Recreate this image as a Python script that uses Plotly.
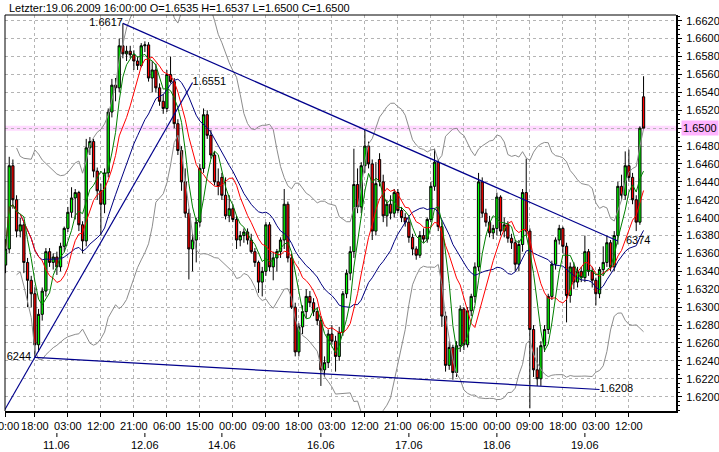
import plotly.graph_objects as go
import pandas as pd

FONT = "Liberation Sans, Arial, sans-serif"

# ---- hourly candles (bar index 0 = 10.06 10:00 ... 174 = 19.06 16:00) ----
open_ = [
    1.6347, 1.6365, 1.6458, 1.6420, 1.6385, 1.6392, 1.6350, 1.6330, 1.6315, 1.6258,
    1.6292, 1.6318, 1.6362, 1.6350, 1.6356, 1.6345, 1.6368, 1.6388, 1.6406, 1.6422,
    1.6428, 1.6392, 1.6374, 1.6478, 1.6485, 1.6452, 1.6430, 1.6415, 1.6450, 1.6518,
    1.6548, 1.6545, 1.6592, 1.6583, 1.6586, 1.6582, 1.6575, 1.6570, 1.6592, 1.6593,
    1.6556, 1.6565, 1.6545, 1.6530, 1.6522, 1.6560, 1.6552, 1.6505, 1.6475, 1.6440,
    1.6405, 1.6365, 1.6375, 1.6395, 1.6455, 1.6515, 1.6492, 1.6470, 1.6440, 1.6445,
    1.6425, 1.6402, 1.6410, 1.6398, 1.6375, 1.6380, 1.6384, 1.6375, 1.6362, 1.6350,
    1.6328, 1.6340, 1.6392, 1.6345, 1.6355, 1.6362, 1.6375, 1.6415, 1.6355, 1.6300,
    1.6250, 1.6278, 1.6295, 1.6312, 1.6305, 1.6295, 1.6285, 1.6230, 1.6238, 1.6270,
    1.6262, 1.6245, 1.6272, 1.6315, 1.6338, 1.6362, 1.6437, 1.6412, 1.6458, 1.6480,
    1.6460, 1.6385, 1.6465, 1.6440, 1.6402, 1.6415, 1.6405, 1.6428, 1.6408, 1.6400,
    1.6395, 1.6378, 1.6365, 1.6358, 1.6380, 1.6376, 1.6398, 1.6435, 1.6462, 1.6390,
    1.6290, 1.6235, 1.6255, 1.6227, 1.6257, 1.6298, 1.6258, 1.6296, 1.6312, 1.6345,
    1.6440, 1.6405, 1.6395, 1.6383, 1.6388, 1.6423, 1.6385, 1.6392, 1.6377, 1.6372,
    1.6348, 1.6370, 1.6428, 1.6385, 1.6275, 1.6230, 1.6220, 1.6257, 1.6275, 1.6312,
    1.6348, 1.6375, 1.6388, 1.6368, 1.6313, 1.6345, 1.6328, 1.6340, 1.6333, 1.6362,
    1.6340, 1.6330, 1.6315, 1.6342, 1.6350, 1.6372, 1.6345, 1.6380, 1.6435, 1.6425,
    1.6458, 1.6445, 1.6420, 1.6395, 1.6535,
]
high_ = [
    1.6376, 1.6468, 1.6465, 1.6425, 1.6400, 1.6395, 1.6355, 1.6335, 1.6322, 1.6298,
    1.6322, 1.6366, 1.6366, 1.6360, 1.6362, 1.6372, 1.6390, 1.6412, 1.6434, 1.6432,
    1.6430, 1.6396, 1.6488, 1.6490, 1.6488, 1.6456, 1.6438, 1.6455, 1.6522, 1.6555,
    1.6556, 1.6600, 1.6617, 1.6592, 1.6592, 1.6587, 1.6580, 1.6595, 1.6597, 1.6596,
    1.6575, 1.6572, 1.6550, 1.6538, 1.6565, 1.6580, 1.6556, 1.6510, 1.6480, 1.6455,
    1.6410, 1.6382, 1.6400, 1.6460, 1.6522, 1.6520, 1.6498, 1.6474, 1.6455, 1.6450,
    1.6445, 1.6425, 1.6415, 1.6402, 1.6385, 1.6388, 1.6388, 1.6382, 1.6366, 1.6352,
    1.6345, 1.6395, 1.6395, 1.6362, 1.6365, 1.6378, 1.6432, 1.6418, 1.6360, 1.6305,
    1.6282, 1.6302, 1.6320, 1.6318, 1.6310, 1.6300, 1.6290, 1.6245, 1.6275, 1.6280,
    1.6268, 1.6278, 1.6318, 1.6342, 1.6368, 1.6477, 1.6455, 1.6462, 1.6498, 1.6485,
    1.6465, 1.6462, 1.6472, 1.6448, 1.6420, 1.6425, 1.6432, 1.6432, 1.6412, 1.6405,
    1.6400, 1.6382, 1.6368, 1.6385, 1.6388, 1.6400, 1.6440, 1.6477, 1.6465, 1.6395,
    1.6295, 1.6262, 1.6258, 1.6262, 1.6302, 1.6300, 1.6300, 1.6315, 1.6350, 1.6450,
    1.6445, 1.6410, 1.6402, 1.6392, 1.6428, 1.6425, 1.6400, 1.6396, 1.6382, 1.6375,
    1.6375, 1.6432, 1.6466, 1.6388, 1.6280, 1.6255, 1.6262, 1.6280, 1.6315, 1.6352,
    1.6378, 1.6392, 1.6390, 1.6372, 1.6350, 1.6350, 1.6345, 1.6345, 1.6380, 1.6365,
    1.6345, 1.6333, 1.6345, 1.6368, 1.6380, 1.6375, 1.6385, 1.6440, 1.6448, 1.6474,
    1.6476, 1.6450, 1.6425, 1.6502, 1.6558,
]
low_ = [
    1.6338, 1.6360, 1.6410, 1.6378, 1.6378, 1.6338, 1.6300, 1.6300, 1.6244, 1.6250,
    1.6285, 1.6312, 1.6345, 1.6342, 1.6336, 1.6340, 1.6362, 1.6384, 1.6400, 1.6398,
    1.6385, 1.6360, 1.6368, 1.6470, 1.6445, 1.6420, 1.6380, 1.6405, 1.6445, 1.6512,
    1.6530, 1.6540, 1.6578, 1.6575, 1.6578, 1.6565, 1.6565, 1.6568, 1.6585, 1.6552,
    1.6540, 1.6540, 1.6525, 1.6516, 1.6518, 1.6550, 1.6500, 1.6470, 1.6430, 1.6400,
    1.6331, 1.6340, 1.6350, 1.6390, 1.6450, 1.6488, 1.6466, 1.6436, 1.6425, 1.6420,
    1.6398, 1.6395, 1.6395, 1.6365, 1.6368, 1.6372, 1.6370, 1.6360, 1.6345, 1.6316,
    1.6312, 1.6335, 1.6340, 1.6330, 1.6340, 1.6355, 1.6365, 1.6350, 1.6298, 1.6245,
    1.6245, 1.6270, 1.6288, 1.6300, 1.6290, 1.6280, 1.6212, 1.6222, 1.6232, 1.6258,
    1.6228, 1.6240, 1.6268, 1.6310, 1.6330, 1.6355, 1.6405, 1.6405, 1.6450, 1.6455,
    1.6375, 1.6380, 1.6435, 1.6395, 1.6390, 1.6398, 1.6400, 1.6405, 1.6395, 1.6390,
    1.6372, 1.6358, 1.6353, 1.6355, 1.6372, 1.6372, 1.6395, 1.6430, 1.6385, 1.6278,
    1.6228, 1.6230, 1.6219, 1.6222, 1.6250, 1.6252, 1.6255, 1.6290, 1.6305, 1.6340,
    1.6400, 1.6390, 1.6378, 1.6376, 1.6380, 1.6380, 1.6378, 1.6372, 1.6365, 1.6340,
    1.6340, 1.6362, 1.6380, 1.6187, 1.6222, 1.6212, 1.6212, 1.6250, 1.6270, 1.6308,
    1.6342, 1.6370, 1.6360, 1.6283, 1.6305, 1.6320, 1.6322, 1.6328, 1.6328, 1.6335,
    1.6322, 1.6302, 1.6310, 1.6335, 1.6345, 1.6340, 1.6340, 1.6370, 1.6420, 1.6420,
    1.6440, 1.6415, 1.6385, 1.6392, 1.6500,
]
close_ = [
    1.6365, 1.6458, 1.6420, 1.6385, 1.6392, 1.6350, 1.6330, 1.6315, 1.6258, 1.6292,
    1.6318, 1.6362, 1.6350, 1.6356, 1.6345, 1.6368, 1.6388, 1.6406, 1.6422, 1.6428,
    1.6392, 1.6374, 1.6478, 1.6485, 1.6452, 1.6430, 1.6415, 1.6450, 1.6518, 1.6548,
    1.6545, 1.6592, 1.6583, 1.6586, 1.6582, 1.6575, 1.6570, 1.6592, 1.6593, 1.6556,
    1.6565, 1.6545, 1.6530, 1.6522, 1.6560, 1.6552, 1.6505, 1.6475, 1.6440, 1.6405,
    1.6365, 1.6375, 1.6395, 1.6455, 1.6515, 1.6492, 1.6470, 1.6440, 1.6435, 1.6425,
    1.6402, 1.6410, 1.6398, 1.6375, 1.6380, 1.6384, 1.6375, 1.6362, 1.6350, 1.6328,
    1.6340, 1.6392, 1.6345, 1.6355, 1.6362, 1.6375, 1.6415, 1.6355, 1.6300, 1.6250,
    1.6278, 1.6295, 1.6312, 1.6305, 1.6295, 1.6285, 1.6230, 1.6238, 1.6270, 1.6262,
    1.6245, 1.6272, 1.6315, 1.6338, 1.6362, 1.6437, 1.6412, 1.6458, 1.6480, 1.6460,
    1.6385, 1.6438, 1.6440, 1.6402, 1.6415, 1.6405, 1.6428, 1.6408, 1.6400, 1.6395,
    1.6378, 1.6365, 1.6358, 1.6380, 1.6376, 1.6398, 1.6435, 1.6462, 1.6390, 1.6290,
    1.6235, 1.6255, 1.6227, 1.6257, 1.6298, 1.6258, 1.6296, 1.6312, 1.6345, 1.6440,
    1.6405, 1.6395, 1.6383, 1.6388, 1.6423, 1.6385, 1.6392, 1.6377, 1.6372, 1.6348,
    1.6370, 1.6428, 1.6385, 1.6275, 1.6230, 1.6220, 1.6257, 1.6275, 1.6312, 1.6348,
    1.6375, 1.6388, 1.6368, 1.6313, 1.6345, 1.6328, 1.6340, 1.6333, 1.6362, 1.6340,
    1.6330, 1.6315, 1.6342, 1.6350, 1.6372, 1.6345, 1.6380, 1.6435, 1.6425, 1.6458,
    1.6445, 1.6420, 1.6395, 1.6500, 1.6500,
]
bars = list(range(len(close_)))

# ---- axis labels ----
time_tick_bars = [0, 8, 17, 26, 35, 44, 53, 62, 71, 80, 89, 98, 107, 116, 125, 134, 143, 152, 161, 170]
time_tick_labels = ["10:00", "18:00", "03:00", "12:00", "21:00", "06:00", "15:00", "00:00", "09:00", "18:00",
                    "03:00", "12:00", "21:00", "06:00", "15:00", "00:00", "09:00", "18:00", "03:00", "12:00"]
date_bars = [14, 38, 59, 86, 110, 134, 158]
date_labels = ["11.06", "12.06", "14.06", "16.06", "17.06", "18.06", "19.06"]
price_ticks = [1.6200, 1.6220, 1.6240, 1.6260, 1.6280, 1.6300, 1.6320, 1.6340, 1.6360, 1.6380, 1.6400,
               1.6420, 1.6440, 1.6460, 1.6480, 1.6500, 1.6520, 1.6540, 1.6560, 1.6580, 1.6600, 1.6620]
marker_level = 1.6500

# ---- drawn trend lines (bar, price) and their end labels ----
trend1_bars, trend1_prices = [32, 167], [1.6617, 1.6374]
trend2_bars, trend2_prices = [8, 51], [1.6244, 1.6551]
trend3_bars, trend3_prices = [8, 162], [1.6244, 1.6208]
trend_label_text = ["1.6617", "1.6551", "6244", "1.6208", "6374"]

header = "Letzter:19.06.2009 16:00:00 O=1.6535 H=1.6537 L=1.6500 C=1.6500"

# ---- indicators ----
s = pd.Series(close_)
ma5 = s.rolling(5, min_periods=1).mean()
ma10 = s.rolling(10, min_periods=1).mean()
ma20 = s.rolling(20, min_periods=1).mean()
sd20 = s.rolling(20, min_periods=4).std(ddof=0)
bb_up = ma20 + 2 * sd20
bb_dn = ma20 - 2 * sd20

XR = [-0.15, 182.85]
YR = [1.61840, 1.66264]

fig = go.Figure()

fig.add_trace(go.Candlestick(
    x=bars, open=open_, high=high_, low=low_, close=close_,
    increasing=dict(line=dict(color="black", width=1), fillcolor="#00ff00"),
    decreasing=dict(line=dict(color="black", width=1), fillcolor="#ff0000"),
    whiskerwidth=0, hoverinfo="skip", showlegend=False))

for ser, col in [(bb_up, "#8c8c8c"), (bb_dn, "#8c8c8c"), (ma20, "#000080"), (ma10, "#ff0000"), (ma5, "#008000")]:
    fig.add_trace(go.Scatter(x=bars, y=ser, mode="lines", line=dict(color=col, width=1),
                             hoverinfo="skip", showlegend=False))

# trend lines (line 2 is extended to the left edge)
slope2 = (trend2_prices[1] - trend2_prices[0]) / (trend2_bars[1] - trend2_bars[0])
t2x = [XR[0] - 1] + trend2_bars
t2y = [trend2_prices[0] + slope2 * (XR[0] - 1 - trend2_bars[0])] + trend2_prices
for tx, ty in [(trend1_bars, trend1_prices), (t2x, t2y), (trend3_bars, trend3_prices)]:
    fig.add_trace(go.Scatter(x=tx, y=ty, mode="lines", line=dict(color="#00008c", width=1.2),
                             hoverinfo="skip", showlegend=False))

lab_x = [trend1_bars[0], trend2_bars[1], trend3_bars[0] - 1.0, trend3_bars[1], trend1_bars[1] + 2.2]
lab_y = [trend1_prices[0], trend2_prices[1], trend3_prices[0], trend3_prices[1], trend1_prices[1]]
lab_pos = ["middle left", "middle right", "middle left", "middle right", "middle right"]
fig.add_trace(go.Scatter(x=lab_x, y=lab_y, mode="text", text=trend_label_text,
                         textposition=lab_pos, textfont=dict(family=FONT, size=11, color="black"),
                         cliponaxis=True, hoverinfo="skip", showlegend=False))

shapes = [
    dict(type="line", xref="paper", yref="y", x0=0, x1=1, y0=marker_level, y1=marker_level,
         line=dict(color="rgba(255,120,255,0.28)", width=5), layer="between"),
    dict(type="line", xref="paper", yref="paper", x0=0, x1=1, y0=1, y1=1,
         line=dict(color="black", width=1)),
    dict(type="line", xref="paper", yref="paper", x0=0, x1=0, y0=0, y1=1,
         line=dict(color="black", width=1)),
]
for b in date_bars:
    shapes.append(dict(type="line", xref="x", yref="paper", x0=b, x1=b, y0=-0.0556, y1=-0.0657,
                       line=dict(color="black", width=1)))

annotations = [
    dict(text=header, xref="paper", yref="paper", x=0.003, y=1, xanchor="left", yanchor="bottom",
         showarrow=False, font=dict(family=FONT, size=11, color="black"), yshift=-1),
    dict(text=f"{marker_level:.4f}", xref="paper", yref="y", x=1, y=marker_level, xanchor="left",
         yanchor="middle", xshift=5, showarrow=False, bgcolor="#ffb4ff", borderpad=1,
         font=dict(family=FONT, size=11, color="black")),
]
for b, t in zip(date_bars, date_labels):
    annotations.append(dict(text=t, xref="x", yref="paper", x=b, y=0, yanchor="top", yshift=-26,
                            showarrow=False, font=dict(family=FONT, size=11, color="black")))

fig.update_layout(
    width=719, height=452, margin=dict(l=5, r=43, t=15, b=41, autoexpand=False),
    paper_bgcolor="white", plot_bgcolor="white", showlegend=False, boxgap=0.12,
    font=dict(family=FONT, size=11, color="black"),
    shapes=shapes, annotations=annotations, hovermode=False,
    xaxis=dict(range=XR, tickmode="array", tickvals=time_tick_bars, ticktext=time_tick_labels,
               ticks="outside", ticklen=4, tickcolor="black", showgrid=True, gridcolor="#b4b4b4",
               griddash="3px,3px", gridwidth=1, showline=True, linecolor="black", linewidth=2,
               zeroline=False, rangeslider=dict(visible=False), fixedrange=True,
               ticklabeloverflow="allow", tickangle=0, automargin=False,
               tickfont=dict(family=FONT, size=11, color="black")),
    yaxis=dict(range=YR, side="right", tickmode="array", tickvals=price_ticks,
               ticktext=["" if abs(v - marker_level) < 1e-9 else f"{v:.4f}" for v in price_ticks],
               ticks="outside", ticklen=4, tickcolor="black", showgrid=True, gridcolor="#b4b4b4",
               griddash="3px,3px", gridwidth=1, showline=True, linecolor="black", linewidth=2,
               zeroline=False, fixedrange=True, ticklabelstandoff=2, automargin=False,
               minor=dict(dtick=0.0005, tick0=1.62, ticks="outside", ticklen=2, tickcolor="black", showgrid=False),
               tickfont=dict(family=FONT, size=11, color="black")),
)

fig.write_html("out.html", config={"displayModeBar": False},
               post_script="document.body.style.margin='0px';document.body.style.overflow='hidden';")
